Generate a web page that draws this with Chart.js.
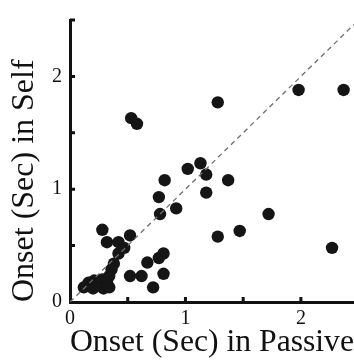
<!DOCTYPE html>
<html>
<head>
<meta charset="utf-8">
<script src="https://cdn.jsdelivr.net/npm/chart.js@4.4.1/dist/chart.umd.min.js"></script>
<style>
  html, body { margin: 0; padding: 0; background: #fff; overflow: hidden; }
  #wrap { position: relative; width: 354px; height: 362px; }
</style>
</head>
<body>
<div id="wrap"><canvas id="c"></canvas></div>
<script>
// Response onset (seconds) per unit: passive condition vs. self-initiated condition
const passiveOnset = [
  1.98, 2.37, 1.28, 0.53, 0.58,
  1.13, 1.02, 1.18, 1.37, 0.82,
  0.77, 1.18, 0.92, 0.78, 1.72,
  1.47, 1.28, 2.27,
  0.28, 0.32, 0.42, 0.52, 0.47, 0.42, 0.38, 0.36, 0.34, 0.32, 0.28, 0.21, 0.16, 0.12, 0.20, 0.29, 0.34,
  0.52, 0.62, 0.67, 0.77, 0.81, 0.81, 0.72
];
const selfOnset = [
  1.88, 1.88, 1.77, 1.63, 1.58,
  1.23, 1.18, 1.13, 1.08, 1.08,
  0.93, 0.97, 0.83, 0.78, 0.78,
  0.63, 0.58, 0.48,
  0.64, 0.53, 0.53, 0.59, 0.48, 0.43, 0.34, 0.29, 0.23, 0.17, 0.20, 0.19, 0.17, 0.13, 0.12, 0.12, 0.13,
  0.23, 0.23, 0.35, 0.39, 0.43, 0.25, 0.13
];
// Identity line (self = passive)
const identityLine = [0, 2.46];

// Axis ranges, labelled ticks and minor tick marks
const xRange = [0, 2.46];
const yRange = [0, 2.5];
const xTickLabels = [0, 1, 2];
const yTickLabels = [0, 1, 2];
const xTickMarks = [0.5, 1, 1.5, 2];
const yTickMarks = [0.5, 1, 1.5, 2, 2.5];

const serif = '"Liberation Serif", "Times New Roman", serif';

const points = passiveOnset.map((x, i) => ({ x: x, y: selfOnset[i] }));
const diag = identityLine.map(v => ({ x: v, y: v }));

// Small inward tick marks on both axes
const innerTicks = {
  id: 'innerTicks',
  afterDraw(chart) {
    const { ctx, scales: { x, y } } = chart;
    const len = 5;
    ctx.save();
    ctx.strokeStyle = '#111';
    ctx.lineWidth = 3;
    ctx.lineCap = 'butt';
    ctx.beginPath();
    const x0 = x.getPixelForValue(0);
    const y0 = y.getPixelForValue(0);
    yTickMarks.forEach(v => {
      const py = y.getPixelForValue(v);
      ctx.moveTo(x0, py);
      ctx.lineTo(x0 + len, py);
    });
    xTickMarks.forEach(v => {
      const px = x.getPixelForValue(v);
      ctx.moveTo(px, y0);
      ctx.lineTo(px, y0 - len);
    });
    ctx.stroke();
    ctx.restore();
  }
};

new Chart(document.getElementById('c'), {
  type: 'scatter',
  data: {
    datasets: [
      {
        type: 'line',
        data: diag,
        borderColor: '#6e6e6e',
        borderWidth: 1.3,
        borderDash: [5, 4],
        pointRadius: 0,
        fill: false,
        order: 0
      },
      {
        data: points,
        backgroundColor: '#151515',
        borderWidth: 0,
        pointRadius: 6.2,
        pointHoverRadius: 6.2,
        order: 1
      }
    ]
  },
  options: {
    responsive: true,
    maintainAspectRatio: false,
    animation: false,
    events: [],
    layout: { autoPadding: false, padding: { top: 13, right: 0, left: 0, bottom: 0 } },
    plugins: { legend: { display: false }, tooltip: { enabled: false } },
    scales: {
      x: {
        type: 'linear',
        min: xRange[0],
        max: xRange[1],
        afterFit(s) { s.height = 60; },
        afterBuildTicks(s) { s.ticks = xTickLabels.map(v => ({ value: v })); },
        grid: { display: false, drawTicks: false },
        border: { display: true, color: '#111', width: 3 },
        ticks: {
          padding: 5,
          maxRotation: 0,
          color: '#111',
          font: { family: serif, size: 20 },
          callback: v => String(v)
        },
        title: {
          display: true,
          text: 'Onset (Sec) in Passive',
          align: 'start',
          color: '#111',
          font: { family: serif, size: 32, lineHeight: 1 },
          padding: { top: 0, bottom: 3 }
        }
      },
      y: {
        type: 'linear',
        min: yRange[0],
        max: yRange[1],
        afterFit(s) { s.width = 70; },
        afterBuildTicks(s) { s.ticks = yTickLabels.map(v => ({ value: v })); },
        grid: { display: false, drawTicks: false },
        border: { display: true, color: '#111', width: 3 },
        ticks: {
          padding: 8,
          color: '#111',
          font: { family: serif, size: 20 },
          callback: v => String(v)
        },
        title: {
          display: true,
          text: 'Onset (Sec) in Self',
          align: 'start',
          color: '#111',
          font: { family: serif, size: 32, lineHeight: 1 },
          padding: { top: 9, bottom: 0 }
        }
      }
    }
  },
  plugins: [innerTicks]
});
</script>
</body>
</html>
